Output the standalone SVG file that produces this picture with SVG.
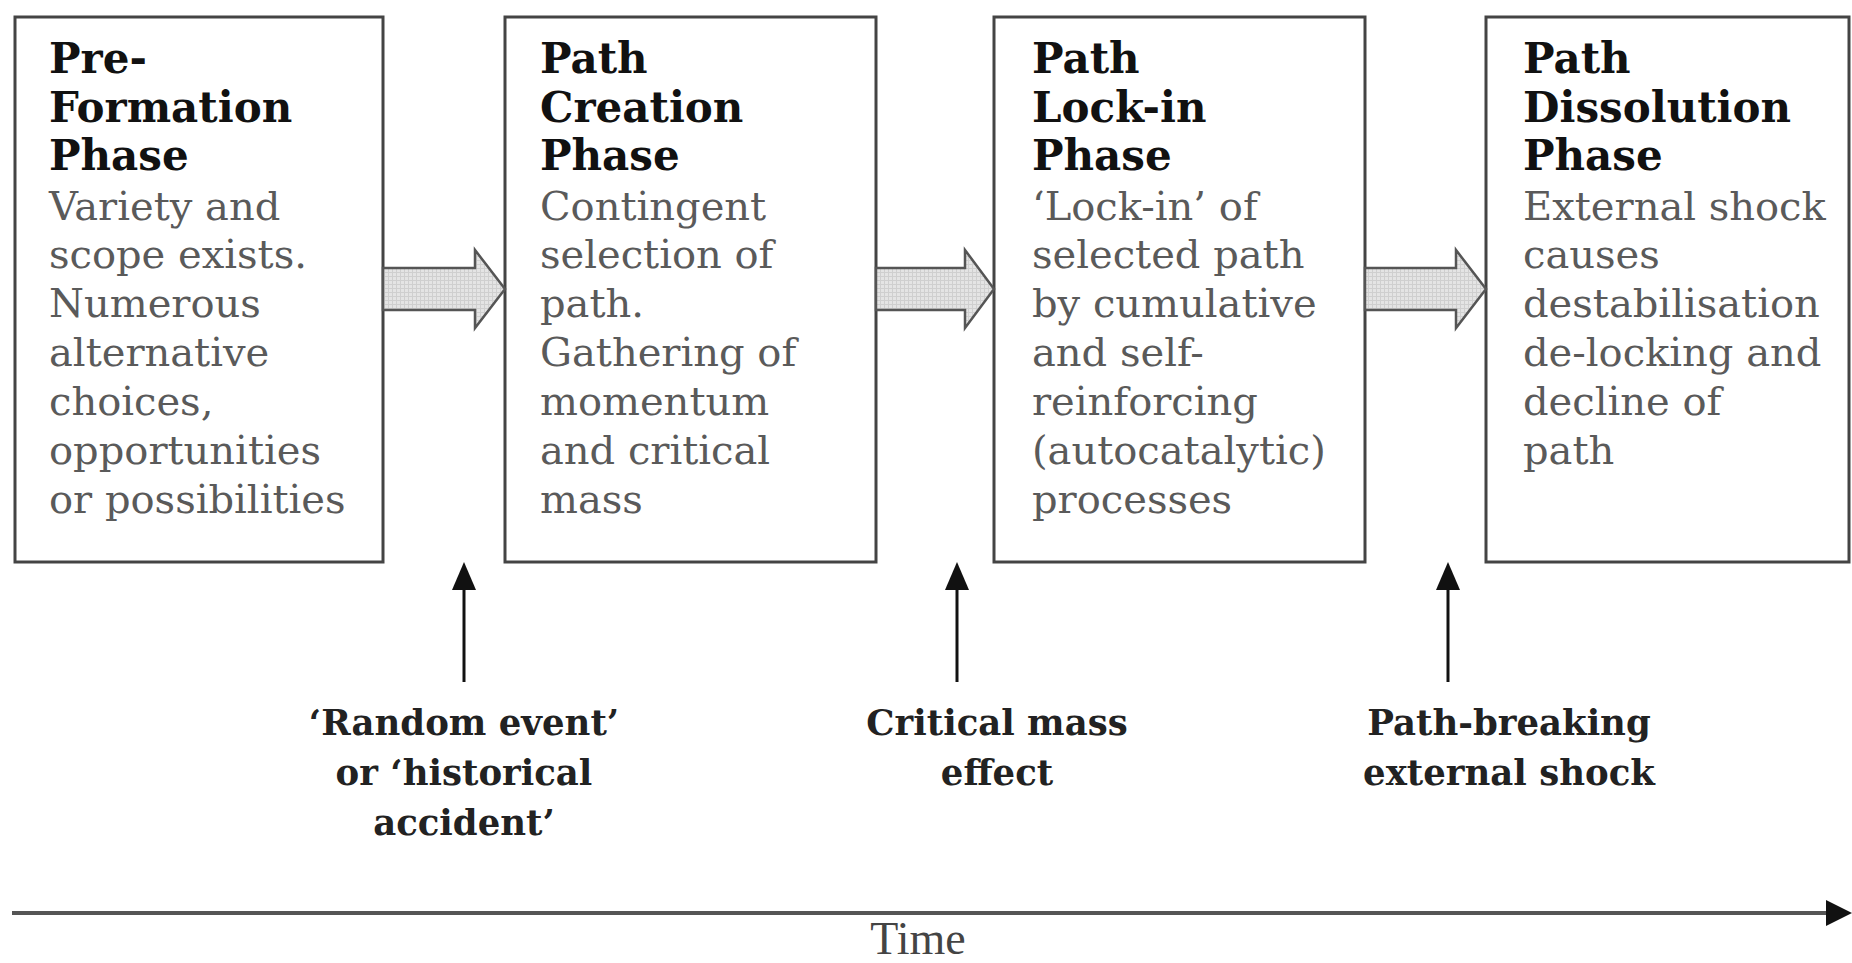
<svg xmlns="http://www.w3.org/2000/svg" width="1852" height="963" viewBox="0 0 1852 963">
<style>
.box{fill:#fff;stroke:#444;stroke-width:3}
.t{font-family:"DejaVu Serif","Liberation Serif",serif;font-size:42px;font-weight:bold;fill:#111}
.b{font-family:"DejaVu Serif","Liberation Serif",serif;font-size:40px;fill:#5a5a5a}
.lbl{font-family:"DejaVu Serif","Liberation Serif",serif;font-size:35.5px;font-weight:bold;fill:#222;text-anchor:middle}
.time{font-family:"Liberation Serif",serif;font-size:46px;fill:#444;text-anchor:middle}
.harrow{fill:url(#grid);stroke:#555;stroke-width:2.5;stroke-linejoin:miter}
.varrow{stroke:#111;stroke-width:3;fill:none}
</style>
<defs>
<pattern id="grid" width="4" height="4" patternUnits="userSpaceOnUse">
<rect width="4" height="4" fill="#e4e4e4"/>
<path d="M0 0.5H4M0.5 0V4" stroke="#cfcfcf" stroke-width="1"/>
</pattern>
</defs>
<rect width="1852" height="963" fill="#fff"/>

<g id="node-preformation">
<rect class="box" x="15" y="17" width="368" height="545"/>
<text class="t" x="49" y="73">Pre-</text>
<text class="t" x="49" y="122">Formation</text>
<text class="t" x="49" y="170">Phase</text>
<text class="b" x="49" y="220">Variety and</text>
<text class="b" x="49" y="268">scope exists.</text>
<text class="b" x="49" y="317">Numerous</text>
<text class="b" x="49" y="366">alternative</text>
<text class="b" x="49" y="415">choices,</text>
<text class="b" x="49" y="464">opportunities</text>
<text class="b" x="49" y="513">or possibilities</text>
</g>

<g id="node-creation">
<rect class="box" x="505" y="17" width="371" height="545"/>
<text class="t" x="540" y="73">Path</text>
<text class="t" x="540" y="122">Creation</text>
<text class="t" x="540" y="170">Phase</text>
<text class="b" x="540" y="220">Contingent</text>
<text class="b" x="540" y="268">selection of</text>
<text class="b" x="540" y="317">path.</text>
<text class="b" x="540" y="366">Gathering of</text>
<text class="b" x="540" y="415">momentum</text>
<text class="b" x="540" y="464">and critical</text>
<text class="b" x="540" y="513">mass</text>
</g>

<g id="node-lockin">
<rect class="box" x="994" y="17" width="371" height="545"/>
<text class="t" x="1032" y="73">Path</text>
<text class="t" x="1032" y="122">Lock-in</text>
<text class="t" x="1032" y="170">Phase</text>
<text class="b" x="1032" y="220">‘Lock-in’ of</text>
<text class="b" x="1032" y="268">selected path</text>
<text class="b" x="1032" y="317">by cumulative</text>
<text class="b" x="1032" y="366">and self-</text>
<text class="b" x="1032" y="415">reinforcing</text>
<text class="b" x="1032" y="464">(autocatalytic)</text>
<text class="b" x="1032" y="513">processes</text>
</g>

<g id="node-dissolution">
<rect class="box" x="1486" y="17" width="363" height="545"/>
<text class="t" x="1523" y="73">Path</text>
<text class="t" x="1523" y="122">Dissolution</text>
<text class="t" x="1523" y="170">Phase</text>
<text class="b" x="1523" y="220">External shock</text>
<text class="b" x="1523" y="268">causes</text>
<text class="b" x="1523" y="317">destabilisation</text>
<text class="b" x="1523" y="366">de-locking and</text>
<text class="b" x="1523" y="415">decline of</text>
<text class="b" x="1523" y="464">path</text>
</g>

<g id="label-random">
<text class="lbl" x="464" y="735">‘Random event’</text>
<text class="lbl" x="464" y="785">or ‘historical</text>
<text class="lbl" x="464" y="835">accident’</text>
</g>
<g id="label-critical">
<text class="lbl" x="997" y="735">Critical mass</text>
<text class="lbl" x="997" y="785">effect</text>
</g>
<g id="label-breaking">
<text class="lbl" x="1509" y="735">Path-breaking</text>
<text class="lbl" x="1509" y="785">external shock</text>
</g>

<g id="connectors">
<path class="harrow" d="M383 268H475V250L505 289L475 328V310H383Z"/>
<path class="harrow" d="M876 268H965V250L994 289L965 328V310H876Z"/>
<path class="harrow" d="M1365 268H1456V250L1486 289L1456 328V310H1365Z"/>
<line class="varrow" x1="464" y1="682" x2="464" y2="588"/>
<path d="M464 562L452 590H476Z" fill="#111"/>
<line class="varrow" x1="957" y1="682" x2="957" y2="588"/>
<path d="M957 562L945 590H969Z" fill="#111"/>
<line class="varrow" x1="1448" y1="682" x2="1448" y2="588"/>
<path d="M1448 562L1436 590H1460Z" fill="#111"/>
<line x1="12" y1="913" x2="1830" y2="913" stroke="#555" stroke-width="4"/>
<path d="M1852 913L1826 900V926Z" fill="#111"/>
</g>

<text class="time" x="918" y="954">Time</text>
</svg>
